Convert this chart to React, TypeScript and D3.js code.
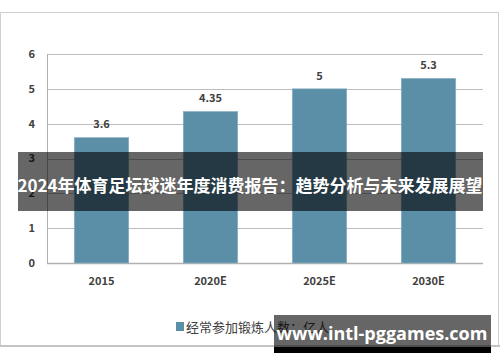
import React from "react";
import * as d3 from "d3";

const categories = ["2015", "2020E", "2025E", "2030E"];
const values = [3.6, 4.35, 5, 5.3];
const valueLabels = ["3.6", "4.35", "5", "5.3"];
const yTicks = [0, 1, 2, 3, 4, 5, 6];
const legendLabel = "经常参加锻炼人数：亿人";
const title = "2024年体育足坛球迷年度消费报告：趋势分析与未来发展展望";
const watermark = "www.intl-pggames.com";

const W = 500;
const H = 362;
const left = 47;
const right = 483;
const top = 54;
const bottom = 263;
const barColor = "#5b8fa8";
const font = "'Noto Sans CJK SC', 'Noto Sans', sans-serif";

const App = () => {
  const x = d3.scaleBand().domain(categories).range([left, right]).paddingInner(0.5).paddingOuter(0.25);
  const y = d3.scaleLinear().domain([0, 6]).range([bottom, top]);

  return (
    <svg width={W} height={H} style={{ position: "absolute", left: 0, top: 0 }}>
      <rect x={0} y={0} width={W} height={H} fill="#fff" />
      {/* chart frame */}
      <rect x={0.5} y={12.5} width={498} height={333} fill="#fff" stroke="#cfcfcf" />
      <line x1={0} x2={500} y1={346} y2={346} stroke="#c4c4c4" strokeWidth={2} />

      {/* grid */}
      {yTicks.map((t) => (
        <g key={t}>
          <line x1={left} x2={right} y1={Math.round(y(t)) + 0.5} y2={Math.round(y(t)) + 0.5}
            stroke={t === 0 ? "#b0b0b0" : "#bdbdbd"} strokeWidth={t === 0 ? 1.5 : 1} />
          <text x={35} y={y(t)} dy="0.35em" textAnchor="end" fontSize={11} fontWeight="bold"
            fill="#404040" fontFamily={font}>{t}</text>
        </g>
      ))}
      <line x1={left + 0.5} x2={left + 0.5} y1={top} y2={bottom} stroke="#b0b0b0" />

      {/* bars */}
      {values.map((v, i) => (
        <g key={categories[i]}>
          <rect x={x(categories[i])} y={y(v)} width={x.bandwidth()} height={bottom - y(v)}
            fill={barColor} stroke="#8fb4c6" strokeWidth={0.6} />
          <text x={x(categories[i])! + x.bandwidth() / 2} y={y(v) - 13} dy="0.35em" textAnchor="middle"
            fontSize={11} fontWeight="bold" fill="#404040" fontFamily={font}>{valueLabels[i]}</text>
          <text x={x(categories[i])! + x.bandwidth() / 2} y={281} dy="0.35em" textAnchor="middle"
            fontSize={11} fontWeight="bold" fill="#404040" fontFamily={font}>{categories[i]}</text>
        </g>
      ))}

      {/* legend */}
      <rect x={176} y={322} width={8} height={9} fill={barColor} />
      <text x={186} y={327} dy="0.35em" fontSize={13} fill="#404040" fontFamily={font}>{legendLabel}</text>

      {/* title banner */}
      <rect x={18} y={152} width={465} height={59} fill="rgba(0,0,0,0.6)" />
      <text x={250} y={186} dy="0.35em" textAnchor="middle" fontSize={17} fontWeight="bold"
        fill="#fff" fontFamily={font}>{title}</text>

      {/* watermark */}
      <rect x={274} y={315} width={217} height={32} fill="rgba(0,0,0,0.6)" />
      <rect x={274} y={347} width={217} height={6} fill="#000" />
      <text x={382} y={334} dy="0.35em" textAnchor="middle" fontSize={18} fontWeight="bold"
        fill="#fff" fontFamily="'Open Sans', 'DejaVu Sans', sans-serif">{watermark}</text>
    </svg>
  );
};

export default App;
